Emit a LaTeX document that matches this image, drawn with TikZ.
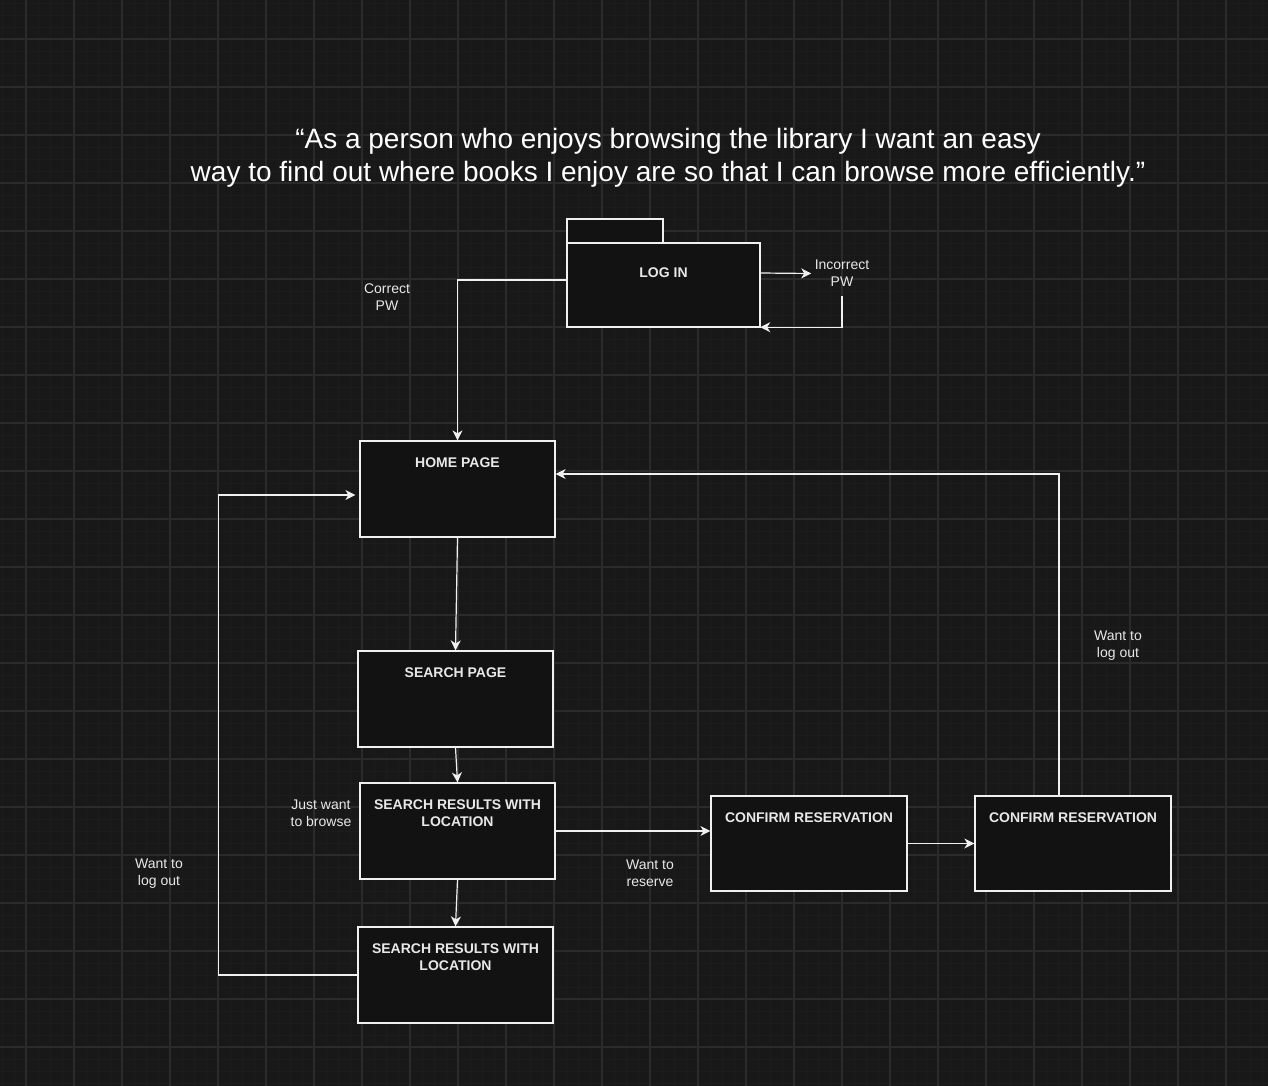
\documentclass[tikz,border=0pt]{standalone}
\usepackage{fontspec}
\setmainfont{Liberation Sans}
\usetikzlibrary{arrows.meta}

\definecolor{bgcol}{HTML}{181818}
\definecolor{minorcol}{HTML}{1C1C1C}
\definecolor{majorcol}{HTML}{2B2B2B}
\definecolor{boxfill}{HTML}{121212}
\definecolor{linecol}{HTML}{F0F0F0}
\definecolor{txtcol}{HTML}{E8E8E8}

\tikzset{
    pagebox/.style={draw=linecol, fill=boxfill, line width=1.2pt,
        minimum width=195pt, minimum height=96pt, inner sep=0pt},
    boxtext/.style={text=txtcol, font=\bfseries\fontsize{14}{17}\selectfont,
        align=center, inner sep=0pt},
    note/.style={text=txtcol, font=\fontsize{14}{17}\selectfont, align=center},
    flow/.style={draw=linecol, line width=1.2pt,
        -{Stealth[length=10pt,width=10pt,inset=3pt]}},
}

\begin{document}
\begin{tikzpicture}[x=1pt,y=-1pt]
                \useasboundingbox (0,0) rectangle (1268,1086);
                \fill[bgcol] (0,0) rectangle (1268,1086);
                \begin{scope}[shift={(26,39)}]
                    \draw[minorcol, line width=0.8pt]
                        (-26,1047) grid[step=12pt] (1242,-39);
                    \draw[majorcol, line width=1.2pt]
                        (-26,1047) grid[step=48pt] (1242,-39);
                \end{scope}

                \node[text=white, font=\fontsize{28}{33}\selectfont, align=center]
                    (story) at (668,157.5)
                    {“As a person who enjoys browsing the library I want an easy\\
                     way to find out where books I enjoy are so that I can browse more efficiently.”};

                % log in folder
                \draw[draw=linecol, fill=boxfill, line width=1.2pt]
                    (567,243) rectangle (760,327);
                \draw[draw=linecol, fill=boxfill, line width=1.2pt]
                    (567,219) rectangle (663,243);
                \node[boxtext, minimum width=193pt, minimum height=108pt]
                    (login) at (663.5,273) {LOG IN};

                \node[pagebox, label={[boxtext,anchor=north,yshift=-17pt]north:HOME PAGE}]
                    (home) at (457.5,489) {};
                \node[pagebox, label={[boxtext,anchor=north,yshift=-17pt]north:SEARCH PAGE}]
                    (search) at (455.5,699) {};
                \node[pagebox, label={[boxtext,anchor=north,yshift=-17pt]north:SEARCH RESULTS WITH\\LOCATION}]
                    (results) at (457.5,831) {};
                \node[pagebox, label={[boxtext,anchor=north,yshift=-17pt]north:SEARCH RESULTS WITH\\LOCATION}]
                    (browse) at (455.5,975) {};
                \node[pagebox, minimum height=95pt, minimum width=196pt,
                    label={[boxtext,anchor=north,yshift=-17pt]north:CONFIRM RESERVATION}]
                    (confirm) at (809,843.5) {};
                \node[pagebox, minimum height=95pt, minimum width=196pt,
                    label={[boxtext,anchor=north,yshift=-17pt]north:CONFIRM RESERVATION}]
                    (reserved) at (1073,843.5) {};

                \node[note] (incorrect) at (842,273.5) {Incorrect\\PW};
                \node[note] (correct) at (387,297.5) {Correct\\PW};
                \node[note] (justbrowse) at (321,813.5) {Just want\\to browse};
                \node[note] (logoutleft) at (159,873.5) {Want to\\log out};
                \node[note] (reserve) at (650,873.5) {Want to\\reserve};
                \node[note] (logoutright) at (1118,645.5) {Want to\\log out};

                \draw[flow] (login.east) -- (incorrect.west);
                \draw[flow] ([yshift=-6pt]incorrect.south) |- (login.south east);
                \draw[flow] ([yshift=-7pt]login.west) -| (home.north);
                \draw[flow] (home.south) -- (search.north);
                \draw[flow] (search.south) -- (results.north);
                \draw[flow] (results.south) -- (browse.north);
                \draw[flow] (browse.west) -- ++(-139,0)
                    |- ([xshift=-4pt,yshift=-6pt]home.west);
                \draw[flow] (results.east) -- (results.east -| confirm.west);
                \draw[flow] (confirm.east) -- (reserved.west);
                \draw[flow] ([xshift=-14pt]reserved.north)
                    |- ([yshift=15pt]home.east);
\end{tikzpicture}
\end{document}
